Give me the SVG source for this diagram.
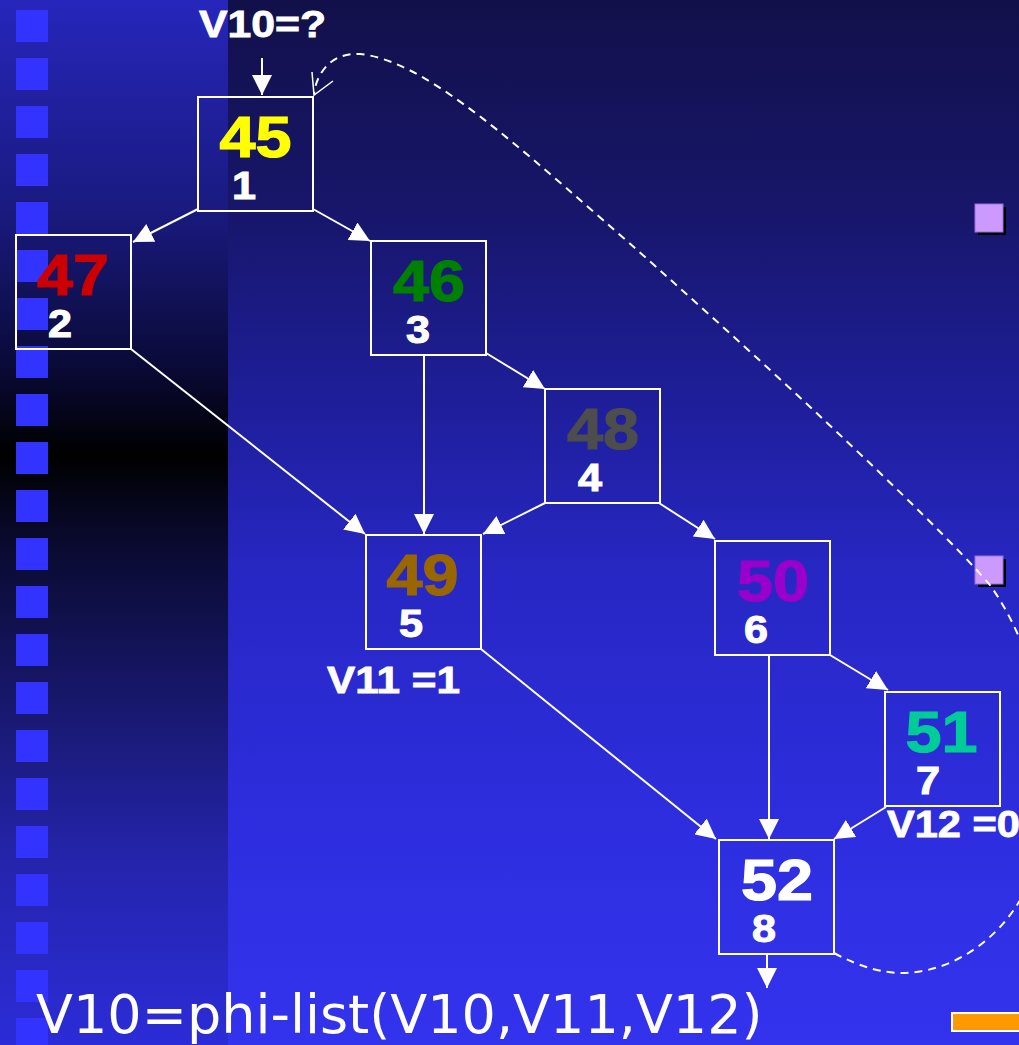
<svg xmlns="http://www.w3.org/2000/svg" width="1019" height="1045" viewBox="0 0 1019 1045">
<style>
.box{fill:none;stroke:#ffffff;stroke-width:2}
.big{font-family:"Liberation Sans",Arial,sans-serif;font-weight:bold;font-size:58px;text-anchor:middle;stroke-width:1.2}
.small{font-family:"Liberation Sans",Arial,sans-serif;font-weight:bold;font-size:38px;fill:#ffffff;stroke:#ffffff;stroke-width:1;text-anchor:middle}
.lbl{font-family:"Liberation Sans",Arial,sans-serif;font-weight:bold;font-size:37px;fill:#ffffff;stroke:#ffffff;stroke-width:0.8}
.edge{stroke:#ffffff;stroke-width:2;fill:none;marker-end:url(#ah)}
.sq{fill:#3333ff}
.bul{fill:#cc99ff;stroke:#9a70e0;stroke-width:1}
</style>
<defs>
<linearGradient id="bg" x1="0" y1="0" x2="0" y2="1">
<stop offset="0" stop-color="#12104a"/>
<stop offset="0.2" stop-color="#17166a"/>
<stop offset="0.4" stop-color="#1f1f9e"/>
<stop offset="0.55" stop-color="#2727c4"/>
<stop offset="0.8" stop-color="#2e2ee0"/>
<stop offset="1" stop-color="#3333ee"/>
</linearGradient>
<linearGradient id="lp" x1="0" y1="0" x2="0" y2="1">
<stop offset="0" stop-color="#2626bc"/>
<stop offset="0.2" stop-color="#1a1a80"/>
<stop offset="0.35" stop-color="#0a0a38"/>
<stop offset="0.435" stop-color="#000000"/>
<stop offset="0.52" stop-color="#0a0a30"/>
<stop offset="0.7" stop-color="#1a1a78"/>
<stop offset="0.82" stop-color="#2424ab"/>
<stop offset="1" stop-color="#2c2cd8"/>
</linearGradient>
<marker id="ah" markerUnits="userSpaceOnUse" markerWidth="20" markerHeight="20" refX="20" refY="10" orient="auto">
<path d="M0,0 L20,10 L0,20 z" fill="#ffffff"/>
</marker>
</defs>
<rect x="0" y="0" width="1019" height="1045" fill="url(#bg)"/>
<rect x="0" y="0" width="228" height="1045" fill="url(#lp)"/>
<g id="side-squares">
<rect class="sq" x="16" y="10" width="32" height="32"/>
<rect class="sq" x="16" y="58" width="32" height="32"/>
<rect class="sq" x="16" y="106" width="32" height="32"/>
<rect class="sq" x="16" y="154" width="32" height="32"/>
<rect class="sq" x="16" y="202" width="32" height="32"/>
<rect class="sq" x="16" y="250" width="32" height="32"/>
<rect class="sq" x="16" y="298" width="32" height="32"/>
<rect class="sq" x="16" y="346" width="32" height="32"/>
<rect class="sq" x="16" y="394" width="32" height="32"/>
<rect class="sq" x="16" y="442" width="32" height="32"/>
<rect class="sq" x="16" y="490" width="32" height="32"/>
<rect class="sq" x="16" y="538" width="32" height="32"/>
<rect class="sq" x="16" y="586" width="32" height="32"/>
<rect class="sq" x="16" y="634" width="32" height="32"/>
<rect class="sq" x="16" y="682" width="32" height="32"/>
<rect class="sq" x="16" y="730" width="32" height="32"/>
<rect class="sq" x="16" y="778" width="32" height="32"/>
<rect class="sq" x="16" y="826" width="32" height="32"/>
<rect class="sq" x="16" y="874" width="32" height="32"/>
<rect class="sq" x="16" y="922" width="32" height="32"/>
<rect class="sq" x="16" y="970" width="32" height="32"/>
<rect class="sq" x="16" y="1018" width="32" height="32"/>
</g>
<g id="bullets">
<rect x="978" y="207" width="28" height="28" fill="#000000"/>
<rect class="bul" x="975" y="204" width="28" height="28"/>
<rect x="978" y="559" width="28" height="28" fill="#000000"/>
<rect class="bul" x="975" y="556" width="28" height="28"/>
</g>
<rect id="orange-bar" x="952" y="1013" width="80" height="18" fill="#ff9900" stroke="#ffffff" stroke-width="2"/>
<g id="connectors">
<line class="edge" x1="262" y1="58" x2="262" y2="95"/>
<line class="edge" x1="198" y1="209" x2="133" y2="242"/>
<line class="edge" x1="313" y1="209" x2="370" y2="241"/>
<line class="edge" x1="131" y1="349" x2="365" y2="534"/>
<line class="edge" x1="424" y1="356" x2="424" y2="534"/>
<line class="edge" x1="486" y1="353" x2="545" y2="389"/>
<line class="edge" x1="545" y1="503" x2="483" y2="534"/>
<line class="edge" x1="659" y1="503" x2="715" y2="539"/>
<line class="edge" x1="481" y1="649" x2="716" y2="839"/>
<line class="edge" x1="769" y1="656" x2="769" y2="839"/>
<line class="edge" x1="830" y1="655" x2="888" y2="690"/>
<line class="edge" x1="886" y1="807" x2="834" y2="839"/>
<line class="edge" x1="767" y1="955" x2="767" y2="988"/>
<path d="M834,953 C860,967 882,973 903,973 C960,972 1010,930 1030,880 C1060,790 1050,670 990,585 C930,515 740,340 603,220 C500,130 420,60 360,54 C330,52 316,75 314,94" fill="none" stroke="#ffffff" stroke-width="2" stroke-dasharray="8,6"/>
<path d="M312,72 L314,95 L333,81" fill="none" stroke="#ffffff" stroke-width="1.5"/>
</g>
<g id="node1">
<rect class="box" x="198" y="97" width="115" height="114"/>
<text class="big" x="255.5" y="157" fill="#ffff00" stroke="#ffff00" textLength="72" lengthAdjust="spacingAndGlyphs">45</text>
<text class="small" x="244" y="199" textLength="24" lengthAdjust="spacingAndGlyphs">1</text>
</g>
<g id="node2">
<rect class="box" x="16" y="235" width="115" height="114"/>
<text class="big" x="73" y="295" fill="#cc0000" stroke="#cc0000" textLength="72" lengthAdjust="spacingAndGlyphs">47</text>
<text class="small" x="60" y="337" textLength="24" lengthAdjust="spacingAndGlyphs">2</text>
</g>
<g id="node3">
<rect class="box" x="371" y="241" width="115" height="114"/>
<text class="big" x="429" y="301" fill="#008000" stroke="#008000" textLength="72" lengthAdjust="spacingAndGlyphs">46</text>
<text class="small" x="418" y="343" textLength="24" lengthAdjust="spacingAndGlyphs">3</text>
</g>
<g id="node4">
<rect class="box" x="545" y="389" width="115" height="114"/>
<text class="big" x="603" y="449" fill="#4d4d4d" stroke="#4d4d4d" textLength="72" lengthAdjust="spacingAndGlyphs">48</text>
<text class="small" x="590" y="491" textLength="24" lengthAdjust="spacingAndGlyphs">4</text>
</g>
<g id="node5">
<rect class="box" x="366" y="535" width="115" height="114"/>
<text class="big" x="422.5" y="595" fill="#996600" stroke="#996600" textLength="72" lengthAdjust="spacingAndGlyphs">49</text>
<text class="small" x="411" y="637" textLength="24" lengthAdjust="spacingAndGlyphs">5</text>
<text class="lbl" x="327" y="693" textLength="133" lengthAdjust="spacingAndGlyphs">V11 =1</text>
</g>
<g id="node6">
<rect class="box" x="715" y="541" width="115" height="114"/>
<text class="big" x="773" y="601" fill="#9900cc" stroke="#9900cc" textLength="72" lengthAdjust="spacingAndGlyphs">50</text>
<text class="small" x="756" y="643" textLength="24" lengthAdjust="spacingAndGlyphs">6</text>
</g>
<g id="node7">
<rect class="box" x="885" y="692" width="115" height="114"/>
<text class="big" x="941.5" y="752" fill="#00cc99" stroke="#00cc99" textLength="72" lengthAdjust="spacingAndGlyphs">51</text>
<text class="small" x="928" y="794" textLength="24" lengthAdjust="spacingAndGlyphs">7</text>
<text class="lbl" x="887" y="837" textLength="133" lengthAdjust="spacingAndGlyphs">V12 =0</text>
</g>
<g id="node8">
<rect class="box" x="719" y="840" width="115" height="114"/>
<text class="big" x="777" y="900" fill="#ffffff" stroke="#ffffff" textLength="72" lengthAdjust="spacingAndGlyphs">52</text>
<text class="small" x="764" y="942" textLength="24" lengthAdjust="spacingAndGlyphs">8</text>
</g>
<text id="entry-label" class="lbl" x="199" y="37" textLength="127" lengthAdjust="spacingAndGlyphs">V10=?</text>
<text id="phi" x="36" y="1033" font-family="DejaVu Sans, Verdana, sans-serif" font-size="54" fill="#ffffff">V10=phi-list(V10,V11,V12)</text>
</svg>
